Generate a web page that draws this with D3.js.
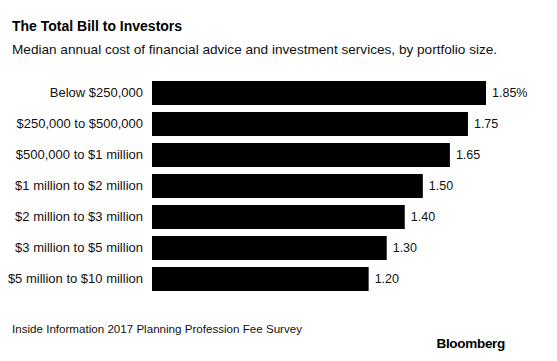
<!DOCTYPE html>
<html>
<head>
<meta charset="utf-8">
<script src="https://cdn.jsdelivr.net/npm/d3@7"></script>
<style>
  body { margin: 0; background: #fff; }
  svg { display: block; font-family: "Liberation Sans", Arial, sans-serif; }
</style>
</head>
<body>
<div id="chart"></div>
<script>
// data
var categories = ["Below $250,000", "$250,000 to $500,000", "$500,000 to $1 million",
  "$1 million to $2 million", "$2 million to $3 million", "$3 million to $5 million",
  "$5 million to $10 million"];
var fees = [1.85, 1.75, 1.65, 1.50, 1.40, 1.30, 1.20];
var valueLabels = ["1.85%", "1.75", "1.65", "1.50", "1.40", "1.30", "1.20"];

var width = 557, height = 361;

var svg = d3.select("#chart")
  .append("svg")
    .attr("width", width)
    .attr("height", height);

// title and subtitle
svg.append("text")
  .attr("x", 12)
  .attr("y", 31)
  .style("font-size", "14px")
  .style("font-weight", "bold")
  .text("The Total Bill to Investors");

svg.append("text")
  .attr("x", 12)
  .attr("y", 54)
  .style("font-size", "13.6px")
  .style("fill", "#111")
  .text("Median annual cost of financial advice and investment services, by portfolio size.");

// scales
var x = d3.scaleLinear()
  .domain([0, 1.85])
  .range([152, 486]);

var y = d3.scaleBand()
  .domain(categories)
  .range([77.5, 294.5])
  .paddingInner(0.226)
  .paddingOuter(0.113);

// category labels
svg.append("g")
  .attr("transform", "translate(143,0)")
  .call(d3.axisLeft(y).tickSize(0).tickPadding(0))
  .call(function(g) { g.select(".domain").remove(); })
  .selectAll("text")
    .style("font-family", "\"Liberation Sans\", Arial, sans-serif")
    .style("font-size", "13px")
    .style("fill", "#111");

// bars
var rows = categories.map(function(c, i) { return {cat: c, value: fees[i], label: valueLabels[i]}; });

svg.selectAll(".bar")
  .data(rows)
  .enter()
  .append("rect")
    .attr("class", "bar")
    .attr("x", x(0))
    .attr("y", function(d) { return y(d.cat); })
    .attr("width", function(d) { return x(d.value) - x(0); })
    .attr("height", y.bandwidth())
    .style("fill", "#000");

// value labels
svg.selectAll(".val")
  .data(rows)
  .enter()
  .append("text")
    .attr("class", "val")
    .attr("x", function(d) { return x(d.value) + 6; })
    .attr("y", function(d) { return y(d.cat) + y.bandwidth() / 2; })
    .attr("dy", "0.35em")
    .style("font-size", "12.5px")
    .style("fill", "#111")
    .text(function(d) { return d.label; });

// source and logo
svg.append("text")
  .attr("x", 12)
  .attr("y", 333)
  .style("font-size", "11.6px")
  .style("fill", "#111")
  .text("Inside Information 2017 Planning Profession Fee Survey");

svg.append("text")
  .attr("x", 505)
  .attr("y", 348)
  .attr("text-anchor", "end")
  .style("font-size", "13.5px")
  .style("font-weight", "bold")
  .style("letter-spacing", "-0.3px")
  .text("Bloomberg");
</script>
</body>
</html>
